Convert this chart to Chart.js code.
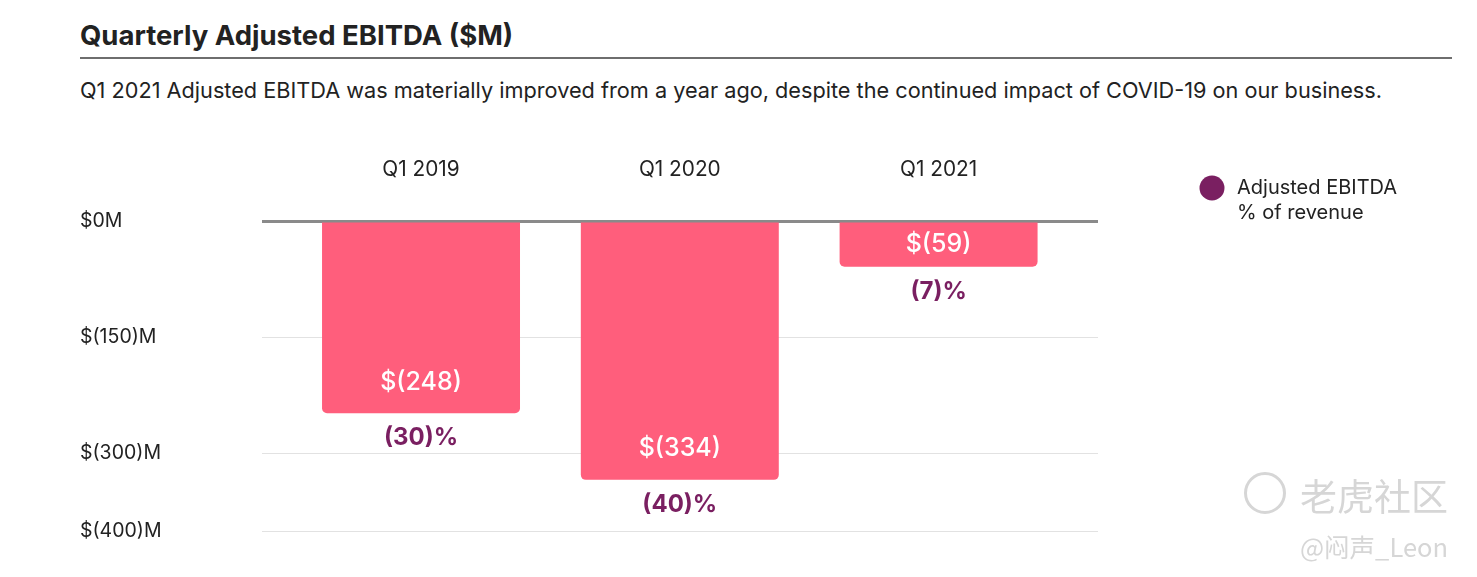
<!DOCTYPE html>
<html>
  <head>
    <meta charset="utf-8" />
    <title>Quarterly Adjusted EBITDA</title>
    <script src="https://cdn.jsdelivr.net/npm/chart.js@4.4.1/dist/chart.umd.min.js"></script>
    <style>
      body { margin: 0; background: #fff; font-family: Inter, "Noto Sans", sans-serif; color: #222; }
      #wrap { position: relative; width: 1477px; height: 577px; overflow: hidden; }
      h1 { position: absolute; left: 80px; top: 18px; margin: 0; font-size: 27.5px; font-weight: 700; color: #222; }
      .rule { position: absolute; left: 80px; top: 57px; width: 1372px; height: 2px; background: #6e6e6e; }
      .sub { position: absolute; left: 80px; top: 77px; margin: 0; font-size: 21.7px; color: #222; }
      canvas { position: absolute; left: 0; top: 0; }
      .wm1 { position: absolute; left: 1300px; top: 468px; font-size: 37px; color: #d6d6d6; font-family: "Noto Sans CJK SC"; }
      .wm2 { position: absolute; left: 1300px; top: 527px; font-size: 25.5px; color: #d6d6d6; font-family: "Noto Sans CJK SC"; }
      .wmicon { position: absolute; left: 1244px; top: 472px; width: 36px; height: 36px; border: 3px solid #d6d6d6; border-radius: 50%; }
    </style>
  </head>
  <body>
    <div id="wrap">
      <h1>Quarterly Adjusted EBITDA ($M)</h1>
      <div class="rule"></div>
      <p class="sub">Q1 2021 Adjusted EBITDA was materially improved from a year ago, despite the continued impact of COVID-19 on our business.</p>
      <canvas id="myChart" width="1477" height="577"></canvas>
      <div class="wmicon"></div>
      <div class="wm1">老虎社区</div>
      <div class="wm2">@闷声_Leon</div>
    </div>
    <script>
      const quarters = ["Q1 2019", "Q1 2020", "Q1 2021"];
      const ebitda = [-248, -334, -59];
      const ebitdaLabels = ["$(248)", "$(334)", "$(59)"];
      const marginLabels = ["(30)%", "(40)%", "(7)%"];
      const yTicks = [0, -150, -300, -400];
      const yTickLabels = ["$0M", "$(150)M", "$(300)M", "$(400)M"];
      const legendLines = ["Adjusted EBITDA", "% of revenue"];

      const PINK = "#ff5e7c";
      const PURPLE = "#7a1f61";
      const FONT = "Inter, 'Noto Sans', sans-serif";

      const barLabels = {
        id: "barLabels",
        afterDatasetsDraw(chart) {
          const ctx = chart.ctx;
          const meta = chart.getDatasetMeta(0);
          ctx.save();
          ctx.textAlign = "center";
          ctx.textBaseline = "middle";
          meta.data.forEach((bar, i) => {
            const bottom = Math.max(bar.y, bar.base);
            const top = Math.min(bar.y, bar.base);
            const inY = Math.max(bottom - 31, (top + bottom) / 2);
            ctx.fillStyle = "#ffffff";
            ctx.font = "500 25px " + FONT;
            ctx.fillText(ebitdaLabels[i], bar.x, inY);
            ctx.fillStyle = PURPLE;
            ctx.font = "700 24px " + FONT;
            ctx.fillText(marginLabels[i], bar.x, bottom + 25);
          });
          // legend
          const lx = chart.chartArea.right + 114;
          const ly = 188;
          ctx.beginPath();
          ctx.arc(lx, ly, 12.5, 0, Math.PI * 2);
          ctx.fillStyle = PURPLE;
          ctx.fill();
          ctx.fillStyle = "#222";
          ctx.textAlign = "left";
          ctx.font = "400 20px " + FONT;
          legendLines.forEach((t, k) => ctx.fillText(t, lx + 25, ly + k * 25));
          ctx.restore();
        },
      };

      const config = {
        type: "bar",
        data: {
          datasets: [
            {
              label: "Adjusted EBITDA",
              data: ebitda.map((v, i) => ({ x: i, y: v })),
              backgroundColor: PINK,
              borderRadius: 5,
              barPercentage: 0.765,
              categoryPercentage: 1,
            },
          ],
        },
        options: {
          responsive: false,
          animation: false,
          layout: { padding: { left: 80, right: 379, top: 150, bottom: 46 } },
          plugins: { legend: { display: false }, tooltip: { enabled: false } },
          scales: {
            x: {
              type: "linear",
              position: "top",
              offset: false,
              min: -0.6145,
              max: 2.616,
              afterBuildTicks: (s) => { s.ticks = quarters.map((q, i) => ({ value: i })); },
              afterFit: (s) => { s.height = 71; },
              grid: { display: false, drawTicks: false, offset: false },
              border: { display: false },
              ticks: {
                callback: (v) => quarters[v],
                color: "#222",
                font: { family: FONT, size: 20.8 },
                padding: 39,
                maxRotation: 0,
              },
            },
            y: {
              min: -400,
              max: 0,
              afterBuildTicks: (s) => { s.ticks = yTicks.map((v) => ({ value: v })); },
              afterFit: (s) => { s.width = 182; },
              grid: {
                color: (c) => (c.tick && c.tick.value === 0 ? "#8a8a8a" : "#e2e2e2"),
                lineWidth: (c) => (c.tick && c.tick.value === 0 ? 3 : 1),
                drawTicks: false,
              },
              border: { display: false },
              ticks: {
                callback: (v, i) => yTickLabels[i],
                color: "#222",
                font: { family: FONT, size: 19.5 },
                crossAlign: "far",
                padding: 0,
              },
            },
          },
        },
        plugins: [barLabels],
      };

      const myChart = new Chart(document.getElementById("myChart"), config);
    </script>
  </body>
</html>
